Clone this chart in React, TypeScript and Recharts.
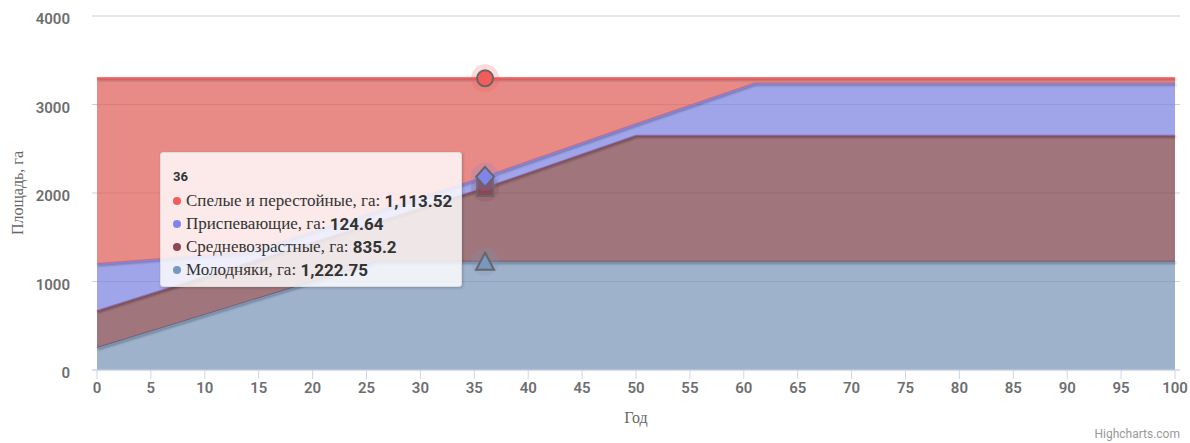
import { AreaChart, Area, XAxis, YAxis, CartesianGrid, Tooltip } from "recharts"

// Year breakpoints
const YEARS = [0, 14, 26, 36, 50, 61, 100]

// Area, ha, per age group (stacked bottom to top)
const MOLODNYAKI = [249, 773, 1222.75, 1222.75, 1222.75, 1222.75, 1222.75]
const SREDNEVOZRASTNYE = [418, 434, 448, 835.2, 1423.25, 1423.25, 1423.25]
const PRISPEVAYUSHCHIE = [530, 120, 122, 124.64, 131, 590, 590]
const SPELYE = [2099, 1969, 1503, 1113.52, 519, 60, 60]

const X_TICKS = [0, 5, 10, 15, 20, 25, 30, 35, 40, 45, 50, 55, 60, 65, 70, 75, 80, 85, 90, 95, 100]
const Y_TICKS = [0, 1000, 2000, 3000, 4000]

type MarkerKind = "circle" | "diamond" | "square" | "triangle"

interface SeriesDef {
  key: string
  name: string
  color: string // marker / legend colour
  fill: string // area colour (drawn at 0.75 opacity)
  marker: MarkerKind
}

// stacking order: first is the bottom layer
const SERIES: SeriesDef[] = [
  { key: "molodnyaki", name: "Молодняки, га", color: "#7798BF", fill: "#7e98bb", marker: "triangle" },
  { key: "srednevozrastnye", name: "Средневозрастные, га", color: "#8d4654", fill: "#804850", marker: "square" },
  { key: "prispevayushchie", name: "Приспевающие, га", color: "#8085e9", fill: "#8086e0", marker: "diamond" },
  { key: "spelye", name: "Спелые и перестойные, га", color: "#f45b5b", fill: "#e0635c", marker: "circle" },
]

const chartData = YEARS.map((year, i) => ({
  year,
  molodnyaki: MOLODNYAKI[i],
  srednevozrastnye: SREDNEVOZRASTNYE[i],
  prispevayushchie: PRISPEVAYUSHCHIE[i],
  spelye: SPELYE[i],
}))

const LABEL_FONT = "Roboto, 'Open Sans', sans-serif"
const SERIF_FONT = "'Liberation Serif', 'DejaVu Serif', serif"

function makeActiveDot(kind: MarkerKind, color: string) {
  return (props: any) => {
    const { cx, cy } = props
    if (cx == null || cy == null) return <g />
    let shape
    if (kind === "circle") {
      shape = <circle cx={cx} cy={cy} r={8} fill={color} stroke="#666" strokeWidth={2} />
    } else if (kind === "diamond") {
      shape = (
        <path
          d={`M${cx},${cy - 10} L${cx + 9},${cy} L${cx},${cy + 10} L${cx - 9},${cy} Z`}
          fill={color}
          stroke="#666"
          strokeWidth={2}
        />
      )
    } else if (kind === "square") {
      shape = <rect x={cx - 8} y={cy - 8} width={16} height={16} fill={color} stroke="#666" strokeWidth={2} />
    } else {
      shape = (
        <path
          d={`M${cx},${cy - 9} L${cx + 9},${cy + 8} L${cx - 9},${cy + 8} Z`}
          fill={color}
          stroke="#666"
          strokeWidth={2}
        />
      )
    }
    return (
      <g>
        <circle cx={cx} cy={cy} r={14} fill={color} fillOpacity={0.22} />
        {shape}
      </g>
    )
  }
}

function formatValue(v: number) {
  return v.toLocaleString("en-US", { maximumFractionDigits: 2 })
}

function HoverTooltip({ payload, label }: any) {
  if (!payload || payload.length === 0) return null
  const rows = [...payload].reverse()
  return (
    <div
      style={{
        width: 302,
        boxSizing: "border-box",
        background: "rgba(255,255,255,0.82)",
        border: "1px solid #dcdcdc",
        borderRadius: 3,
        boxShadow: "1px 1px 3px rgba(0,0,0,0.2)",
        padding: "14px 12px 5px 12px",
        color: "#333",
      }}
    >
      <div style={{ fontFamily: LABEL_FONT, fontWeight: 700, fontSize: 13, lineHeight: "20px", marginBottom: 2 }}>
        {label}
      </div>
      {rows.map((entry: any) => {
        const s = SERIES.find((d) => d.key === entry.dataKey)
        return (
          <div key={entry.dataKey} style={{ display: "flex", alignItems: "center", height: 23, whiteSpace: "nowrap" }}>
            <span
              style={{
                display: "inline-block",
                flexShrink: 0,
                width: 8,
                height: 8,
                borderRadius: 4,
                background: s ? s.color : entry.color,
                marginRight: 5,
              }}
            />
            <span style={{ fontFamily: SERIF_FONT, fontSize: 17 }}>{entry.name}:&nbsp;</span>
            <span style={{ fontFamily: LABEL_FONT, fontWeight: 700, fontSize: 17 }}>{formatValue(entry.value)}</span>
          </div>
        )
      })}
    </div>
  )
}

function YTick({ x, y, payload }: any) {
  return (
    <text
      x={x}
      y={y + 3}
      dy="0.355em"
      textAnchor="end"
      fill="#6e6e70"
      fontSize={15}
      fontWeight={600}
      fontFamily={LABEL_FONT}
    >
      {payload.value}
    </text>
  )
}

function XTick({ x, y, payload }: any) {
  return (
    <text
      x={x}
      y={y}
      dy="0.71em"
      textAnchor="middle"
      fill="#6e6e70"
      fontSize={15}
      fontWeight={600}
      fontFamily={LABEL_FONT}
    >
      {payload.value}
    </text>
  )
}

export default function App() {
  return (
    <div style={{ position: "relative", width: 1190, height: 443, background: "#fff" }}>
      <style>{"body{margin:0} .recharts-area-curve{filter:drop-shadow(1px 1px 1px rgba(0,0,0,0.35))}"}</style>
      <AreaChart width={1190} height={443} data={chartData} margin={{ top: 16, right: 10, bottom: 0, left: 0 }}>
        <CartesianGrid vertical={false} stroke="#cfcfcf" />
        <XAxis
          dataKey="year"
          type="number"
          domain={[-0.464, 100.464]}
          ticks={X_TICKS}
          height={73}
          stroke="#ccd6eb"
          tickSize={9}
          tickMargin={3}
          tick={<XTick />}
          label={(props: any) => {
            const vb = props.viewBox
            return (
              <text
                x={vb.x + vb.width / 2}
                y={423}
                textAnchor="middle"
                fill="#666"
                fontSize={16}
                fontFamily={SERIF_FONT}
              >
                Год
              </text>
            )
          }}
        />
        <YAxis
          type="number"
          domain={[0, 4000]}
          ticks={Y_TICKS}
          width={92}
          axisLine={false}
          tickLine={false}
          tickSize={0}
          tickMargin={22}
          tick={<YTick />}
          label={() => (
            <text
              transform="translate(23,193) rotate(-90)"
              textAnchor="middle"
              fill="#666"
              fontSize={16}
              fontFamily={SERIF_FONT}
            >
              Площадь, га
            </text>
          )}
        />
        <Tooltip
          active
          defaultIndex={3}
          position={{ x: 160, y: 152 }}
          cursor={false}
          isAnimationActive={false}
          content={<HoverTooltip />}
          wrapperStyle={{ outline: "none" }}
        />
        {SERIES.map((s) => (
          <Area
            key={s.key}
            type="linear"
            dataKey={s.key}
            name={s.name}
            stackId="1"
            stroke={s.color}
            strokeWidth={2}
            fill={s.fill}
            fillOpacity={0.75}
            dot={false}
            activeDot={makeActiveDot(s.marker, s.color)}
            isAnimationActive={false}
          />
        ))}
      </AreaChart>
      <span
        style={{
          position: "absolute",
          right: 10,
          top: 427,
          fontFamily: LABEL_FONT,
          fontSize: 12,
          color: "#999",
        }}
      >
        Highcharts.com
      </span>
    </div>
  )
}
